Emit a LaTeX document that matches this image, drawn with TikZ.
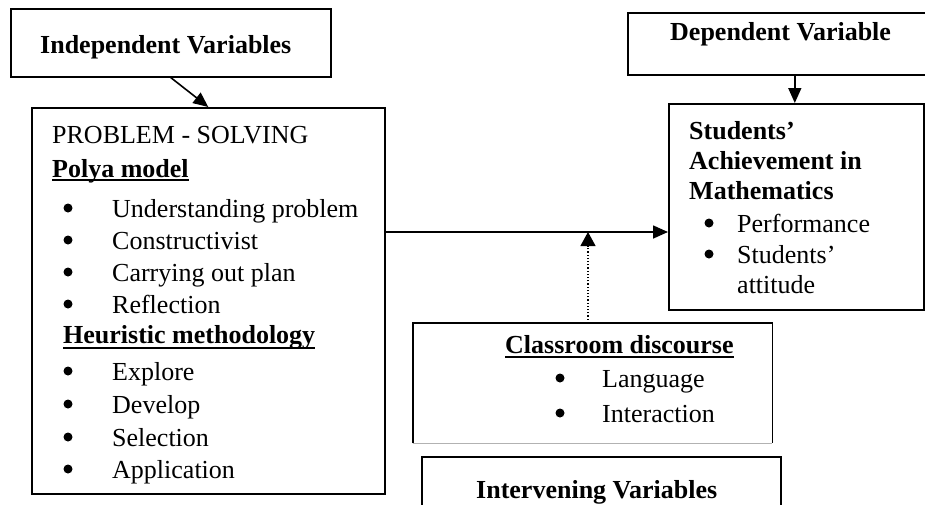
\documentclass[tikz,border=0pt]{standalone}
\usepackage{fontspec}
\setmainfont{Liberation Serif}
\usetikzlibrary{arrows.meta}
\tikzset{
  frame/.style={draw, line width=1.6pt, inner sep=0pt, anchor=north west},
  txt/.style={inner sep=0pt, anchor=base west, font=\fontsize{26}{31}\selectfont},
  btxt/.style={inner sep=0pt, anchor=base west, font=\fontsize{26}{31}\selectfont\bfseries},
  dot/.style={circle, fill=black, inner sep=0pt, minimum size=9pt},
  arr/.style={line width=1.6pt, -{Triangle[length=15pt,width=13pt]}},
  dotarr/.style={line width=1.2pt, dotted, -{Triangle[length=14pt,width=15pt]}},
  uline/.style={line width=2pt},
}
\newcommand\bitem[5]{\node[dot] (#1b) at (#2,#4-9) {}; \node[txt] (#1) at (#3,#4) {#5};}
\begin{document}
\begin{tikzpicture}[x=1pt,y=-1pt]
\useasboundingbox (0,0) rectangle (925,504);
\clip (0,0) rectangle (925,504);

% boxes
\node[frame, minimum width=320pt, minimum height=68pt] (indep) at (10,8) {};
\node[frame, minimum width=353pt, minimum height=386pt] (prob) at (31,107) {};
\node[frame, minimum width=334pt, minimum height=62pt] (dep) at (627,12) {};
\node[frame, minimum width=255pt, minimum height=206pt] (stud) at (668,103) {};
\node[inner sep=0pt, anchor=north west, minimum width=359pt, minimum height=120pt] (class) at (413,323) {};
\draw[line width=1.6pt] (class.south west) -- (class.north west) -- (class.north east) -- (class.south east);
\draw[line width=0.8pt, gray!60] (class.south west) -- (class.south east);
\node[frame, minimum width=359pt, minimum height=80pt] (interv) at (421,456) {};

% texts
\node[btxt] (tindep) at (40,53) {Independent Variables};
\node[txt] (tprob) at (52,143) {PROBLEM - SOLVING};
\node[btxt] (tpolya) at (52,177) {Polya model};
\draw[uline] ([yshift=-3pt]tpolya.base west) -- ([yshift=-3pt]tpolya.base east);
\bitem{p1}{68}{112}{217}{Understanding problem}
\bitem{p2}{68}{112}{249}{Constructivist}
\bitem{p3}{68}{112}{281}{Carrying out plan}
\bitem{p4}{68}{112}{313}{Reflection}
\node[btxt] (theur) at (63,343) {Heuristic methodology};
\draw[uline] ([yshift=-5pt]theur.base west) -- ([yshift=-5pt]theur.base east);
\bitem{h1}{68}{112}{380}{Explore}
\bitem{h2}{68}{112}{413}{Develop}
\bitem{h3}{68}{112}{446}{Selection}
\bitem{h4}{68}{112}{478}{Application}

\node[btxt] (tdep) at (670,40) {Dependent Variable};
\node[btxt] (ts1) at (689,139) {Students’};
\node[btxt] (ts2) at (689,169) {Achievement in};
\node[btxt] (ts3) at (689,199) {Mathematics};
\bitem{s1}{709}{737}{232}{Performance}
\bitem{s2}{709}{737}{263}{Students’}
\node[txt] (s3) at (737,293) {attitude};

\node[btxt] (tclass) at (505,353) {Classroom discourse};
\draw[uline] ([yshift=-4pt]tclass.base west) -- ([yshift=-4pt]tclass.base east);
\bitem{c1}{560}{602}{387}{Language}
\bitem{c2}{560}{602}{422}{Interaction}

\node[btxt] (tinterv) at (476,498) {Intervening Variables};

% connectors
\draw[arr] (indep.south) -- (prob.north);
\draw[arr] (dep.south) -- (dep.south |- stud.north);
\draw[arr] ([yshift=-125pt]prob.north east) -- ([yshift=-129pt]stud.north west);
\coordinate (meet) at (588,232);
\draw[dotarr] (class.north -| meet) -- (meet);
\end{tikzpicture}
\end{document}
